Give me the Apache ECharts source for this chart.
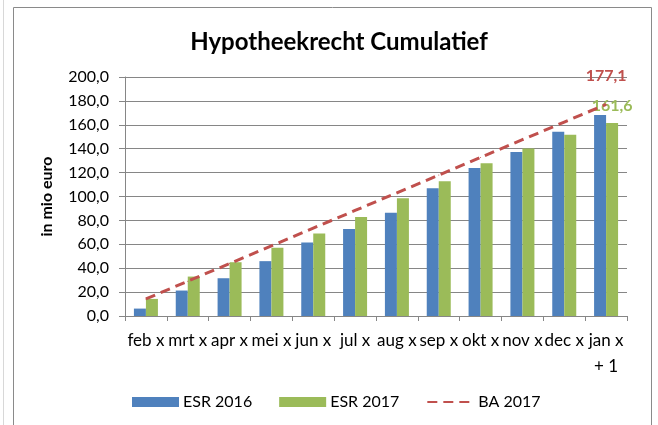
<!DOCTYPE html>
<html>
<head>
<meta charset="utf-8">
<script src="https://cdn.jsdelivr.net/npm/echarts@6/dist/echarts.min.js"></script>
<style>
html,body{margin:0;padding:0;background:#fff;}
#chart_div{width:658px;height:425px;}
</style>
</head>
<body>
<div id="chart_div"></div>
<script>
var maanden = ['feb x', 'mrt x', 'apr x', 'mei x', 'jun x', 'jul x', 'aug x', 'sep x', 'okt x', 'nov x', 'dec x', 'jan x\n+ 1'];
var esr2016 = [6.2, 21.3, 31.6, 45.9, 61.5, 72.7, 86.4, 106.9, 123.9, 137.3, 154.1, 168.1];
var esr2017 = [14.3, 33.0, 45.0, 57.1, 69.1, 82.8, 98.5, 112.7, 127.8, 140.1, 151.6, 161.6];
var ba2017 = [14.3, 29.1, 43.9, 58.7, 73.5, 88.3, 103.1, 117.9, 132.7, 147.5, 162.3, 177.1];
var yTicks = [0, 20, 40, 60, 80, 100, 120, 140, 160, 180, 200];

var fontFam = 'Lato, "Open Sans", sans-serif';

function fmt(v){
	return Number(v).toFixed(1).replace('.', ',');
}

// alleen het laatste punt krijgt een label
function lastLabel(arr, color, dist){
	var out = [];
	for (var i = 0; i < arr.length; i++) {
		if (i == arr.length - 1) {
			out.push({value: arr[i], label: {show: true, position: 'top', distance: dist, color: color,
				fontSize: 16, fontWeight: 'bold', fontFamily: fontFam, formatter: function(p){ return fmt(p.value); }}});
		} else {
			out.push(arr[i]);
		}
	}
	return out;
}

var chart = echarts.init(document.getElementById('chart_div'));
var option = {
	animation: false,
	backgroundColor: '#fff',
	graphic: [
		{type: 'rect', shape: {x: 13.5, y: 7.5, width: 638, height: 430}, style: {fill: 'none', stroke: '#8a8a8a', lineWidth: 1}},
		{type: 'line', shape: {x1: 3.5, y1: 0, x2: 3.5, y2: 425}, style: {stroke: '#d8d8d8', lineWidth: 1}}
	],
	title: {
		text: 'Hypotheekrecht Cumulatief',
		left: 334, top: 25, textAlign: 'center',
		textStyle: {fontSize: 24, fontWeight: 'bold', color: '#000', fontFamily: fontFam}
	},
	legend: {
		top: 394, left: 132,
		itemWidth: 47, itemHeight: 10, itemGap: 27, padding: 0,
		textStyle: {fontSize: 16, color: '#000', fontFamily: fontFam, padding: [0, 0, 0, -1]},
		data: [
			{name: 'ESR 2016', icon: 'rect'},
			{name: 'ESR 2017', icon: 'rect'},
			{name: 'BA 2017', itemStyle: {opacity: 0}}
		]
	},
	grid: {left: 125, right: 31, top: 77, bottom: 109},
	xAxis: {
		type: 'category',
		data: maanden,
		axisLine: {lineStyle: {color: '#868686'}},
		axisTick: {show: true, length: 5, lineStyle: {color: '#868686'}},
		axisLabel: {fontSize: 17, color: '#000', fontFamily: fontFam, margin: 12, lineHeight: 26, interval: 0}
	},
	yAxis: {
		type: 'value',
		min: yTicks[0], max: yTicks[yTicks.length - 1], interval: 20,
		name: 'in mio euro',
		nameLocation: 'middle', nameGap: 70, nameRotate: 90,
		nameTextStyle: {fontSize: 16, fontWeight: 'bold', color: '#000', fontFamily: fontFam},
		axisLine: {show: true, lineStyle: {color: '#868686'}},
		axisTick: {show: true, length: 6, lineStyle: {color: '#868686'}},
		axisLabel: {fontSize: 16, color: '#000', fontFamily: fontFam, margin: 16, formatter: fmt},
		splitLine: {lineStyle: {color: '#868686'}}
	},
	series: [
		{
			name: 'ESR 2016', type: 'bar', data: esr2016,
			barWidth: 12, barGap: '0%',
			itemStyle: {color: '#4F81BD'}
		},
		{
			name: 'ESR 2017', type: 'bar', data: lastLabel(esr2017, '#9BBB59', 9),
			barWidth: 12,
			itemStyle: {color: '#9BBB59'}
		},
		{
			name: 'BA 2017', type: 'line', data: lastLabel(ba2017, '#C0504D', 20),
			symbol: 'circle', symbolSize: 1, showSymbol: true,
			lineStyle: {color: '#C0504D', width: 3, type: [10, 6]},
			itemStyle: {color: '#C0504D'}
		}
	]
};
chart.setOption(option);
</script>
</body>
</html>
